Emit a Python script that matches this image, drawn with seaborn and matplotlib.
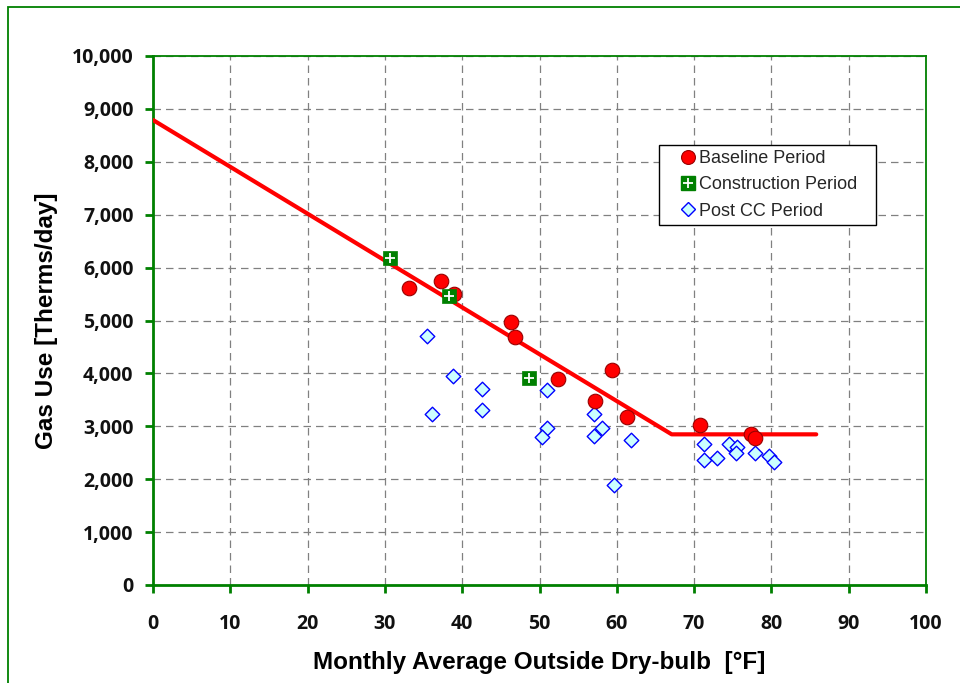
import matplotlib
matplotlib.use("Agg")
import matplotlib.pyplot as plt
from matplotlib.lines import Line2D
from matplotlib.patches import Rectangle
from matplotlib.ticker import FuncFormatter, MultipleLocator
import seaborn as sns
import pandas as pd

# ---- data ----
baseline_x = [33.1, 37.2, 39.0, 46.3, 46.8, 52.4, 57.2, 59.4, 61.3, 70.7, 77.4, 77.9]
baseline_y = [5610, 5740, 5510, 4980, 4690, 3890, 3480, 4060, 3180, 3020, 2850, 2780]

construction_x = [30.7, 38.3, 48.6]
construction_y = [6180, 5460, 3920]

post_x = [35.5, 38.8, 36.1, 42.6, 42.6, 51.0, 51.0, 50.3, 57.0, 58.1, 57.1, 61.9, 59.7,
          71.3, 71.3, 73.0, 74.5, 75.5, 75.4, 77.9, 79.7, 80.4]
post_y = [4700, 3960, 3230, 3700, 3310, 3680, 2960, 2790, 3230, 2960, 2820, 2740, 1890,
          2660, 2360, 2400, 2660, 2600, 2500, 2500, 2440, 2320]

fit_x = [0, 67.1, 85.8]
fit_y = [8790, 2848, 2848]

labels = ["Baseline Period", "Construction Period", "Post CC Period"]
x_label = "Monthly Average Outside Dry-bulb  [°F]"
y_label = "Gas Use [Therms/day]"

sns.set_theme(style="white")
plt.rcParams["font.family"] = ["Liberation Sans", "DejaVu Sans"]

fig = plt.figure(figsize=(9.6, 6.83), dpi=100)
ax = fig.add_axes([153 / 960, 1 - 585 / 683, 773 / 960, 529 / 683])

green = "#008000"

# outer chart border (only left/top visible in the crop)
fig.patches.append(Rectangle((8 / 960, -0.1), 1.2, 1 - 7 / 683 + 0.1,
                             transform=fig.transFigure, fill=False,
                             edgecolor=green, linewidth=1.3, zorder=0))

df_line = pd.DataFrame({"x": fit_x, "y": fit_y})
sns.lineplot(data=df_line, x="x", y="y", ax=ax, color="#ff0000", linewidth=3,
             zorder=3, legend=False)

df_b = pd.DataFrame({"x": baseline_x, "y": baseline_y})
df_c = pd.DataFrame({"x": construction_x, "y": construction_y})
df_p = pd.DataFrame({"x": post_x, "y": post_y})

sns.scatterplot(data=df_p, x="x", y="y", ax=ax, marker="D", s=55,
                color="#ccffff", edgecolor="#0000ff", linewidth=1.0, zorder=4)
sns.scatterplot(data=df_b, x="x", y="y", ax=ax, marker="o", s=110,
                color="#ff0000", edgecolor="#990000", linewidth=0.8, zorder=5)
sns.scatterplot(data=df_c, x="x", y="y", ax=ax, marker="s", s=100,
                color=green, edgecolor=green, linewidth=0.5, zorder=6)
sns.scatterplot(data=df_c, x="x", y="y", ax=ax, marker="+", s=60,
                color="white", linewidth=1.3, zorder=7)

ax.set_xlim(0, 100)
ax.set_ylim(0, 10000)
ax.xaxis.set_major_locator(MultipleLocator(10))
ax.yaxis.set_major_locator(MultipleLocator(1000))
ax.yaxis.set_major_formatter(FuncFormatter(lambda v, p: f"{int(v):,}"))

ax.grid(True, which="major", color="#808080", linestyle=(0, (6, 4)), linewidth=0.9)
ax.set_axisbelow(True)

for side in ["left", "bottom"]:
    ax.spines[side].set_color(green)
    ax.spines[side].set_linewidth(2)
for side in ["top", "right"]:
    ax.spines[side].set_color(green)
    ax.spines[side].set_linewidth(1.3)

ax.tick_params(axis="both", which="major", direction="out", length=6, width=2,
               color=green, bottom=True, left=True, labelsize=14, pad=8)
for lab in ax.get_xticklabels() + ax.get_yticklabels():
    lab.set_fontfamily(["Open Sans", "DejaVu Sans"])
    lab.set_fontweight("bold")
    lab.set_color("#111111")
ax.tick_params(axis="x", pad=15)

ax.set_xlabel(x_label, fontsize=17.5, fontweight="bold", color="black", labelpad=0)
ax.set_ylabel(y_label, fontsize=17.5, fontweight="bold", color="black", labelpad=0)
ax.xaxis.set_label_coords(0.5, -(651 - 585) / 529, transform=ax.transAxes)
ax.yaxis.set_label_coords(-(153 - 58) / 773, 0.5, transform=ax.transAxes)

h_b = Line2D([], [], linestyle="none", marker="o", markersize=10,
             markerfacecolor="#ff0000", markeredgecolor="#990000", markeredgewidth=0.8)
h_c1 = Line2D([], [], linestyle="none", marker="s", markersize=9.5,
              markerfacecolor=green, markeredgecolor=green)
h_c2 = Line2D([], [], linestyle="none", marker="+", markersize=7.5,
              markeredgecolor="white", markeredgewidth=1.3)
h_p = Line2D([], [], linestyle="none", marker="D", markersize=7,
             markerfacecolor="#ccffff", markeredgecolor="#0000ff", markeredgewidth=1.0)

leg = ax.legend([h_b, (h_c1, h_c2), h_p], labels,
                loc="upper left",
                bbox_to_anchor=((659 - 153) / 773, (585 - 225) / 529,
                                (876 - 659) / 773, 80 / 529),
                mode="expand",
                frameon=True, fancybox=False, shadow=False, fontsize=13,
                handlelength=2.68, handletextpad=-0.73, labelspacing=0.52,
                borderpad=0.27, borderaxespad=0)
leg.get_frame().set_edgecolor("black")
leg.get_frame().set_linewidth(1.0)
leg.get_frame().set_facecolor("white")
leg.get_frame().set_alpha(1)

fig.savefig("out.png", dpi=100, facecolor="white")
